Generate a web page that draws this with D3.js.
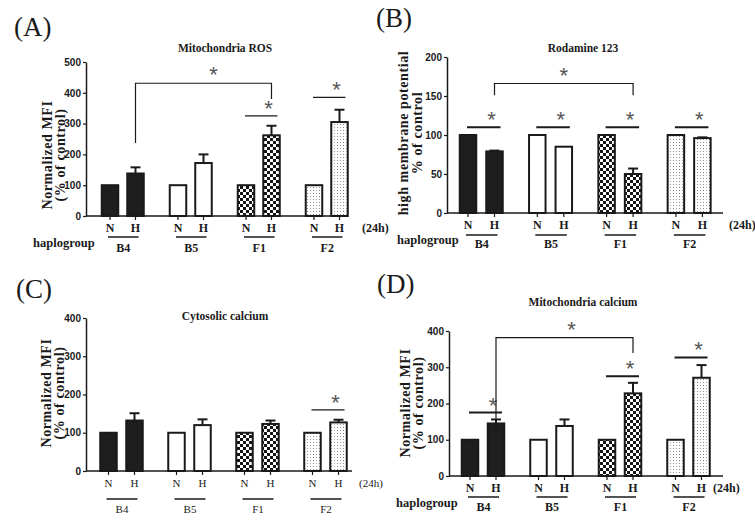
<!DOCTYPE html>
<html><head><meta charset="utf-8">
<script src="https://cdn.jsdelivr.net/npm/d3@7/dist/d3.min.js"></script>
<style>body{margin:0;background:#fff} svg{display:block}</style>
</head><body>
<svg id="c" width="755" height="526"></svg>
<script>
// ---------- data ----------
const groups = ["B4", "B5", "F1", "F2"];
const conds = ["N", "H"];

const rosTicks = [0, 100, 200, 300, 400, 500];
const rosN = [100, 100, 100, 100];
const rosH = [138, 172, 262, 305];
const rosErr = [20, 28, 31, 40];
const rosPairs = [{g: "F1", y: 325}, {g: "F2", y: 385}];
const rosBracket = {from: "B4", to: "F1", y: 431, yFrom: 237, yTo: 380};

const rhoTicks = [0, 50, 100, 150, 200];
const rhoN = [100, 100, 100, 100];
const rhoH = [79, 85, 50, 96];
const rhoErr = [1, 0, 7, 1];
const rhoPairs = [{g: "B4", y: 110}, {g: "B5", y: 110}, {g: "F1", y: 110}, {g: "F2", y: 110}];
const rhoBracket = {from: "B4", to: "F1", y: 166, yFrom: 151, yTo: 151};

const cytoTicks = [0, 100, 200, 300, 400];
const cytoN = [100, 100, 100, 100];
const cytoH = [132, 120, 123, 127];
const cytoErr = [19, 15, 9, 7];
const cytoPairs = [{g: "F2", y: 160}];

const mcaTicks = [0, 100, 200, 300, 400];
const mcaN = [100, 100, 100, 100];
const mcaH = [145, 138, 228, 271];
const mcaErr = [11, 18, 29, 35];
const mcaPairs = [{g: "B4", y: 175}, {g: "F1", y: 275}, {g: "F2", y: 327}];
const mcaBracket = {from: "B4", to: "F1", y: 382, yFrom: 127, yTo: 339};

// ---------- drawing ----------
const svg = d3.select("#c");
const defs = svg.append("defs");
const chk = defs.append("pattern").attr("id", "checker").attr("patternUnits", "userSpaceOnUse")
  .attr("width", 6).attr("height", 6);
chk.append("rect").attr("width", 6).attr("height", 6).attr("fill", "#fff");
chk.append("rect").attr("width", 3).attr("height", 3).attr("fill", "#151515");
chk.append("rect").attr("x", 3).attr("y", 3).attr("width", 3).attr("height", 3).attr("fill", "#151515");
const dp = defs.append("pattern").attr("id", "dots").attr("patternUnits", "userSpaceOnUse")
  .attr("width", 6).attr("height", 3);
dp.append("rect").attr("width", 6).attr("height", 3).attr("fill", "#fff");
dp.append("rect").attr("x", 1).attr("y", 1).attr("width", 1).attr("height", 1).attr("fill", "#8a8a8a");
dp.append("rect").attr("x", 4).attr("y", 1).attr("width", 1).attr("height", 1).attr("fill", "#a5a5a5");

const fills = {B4: "#1e1e1e", B5: "#ffffff", F1: "url(#checker)", F2: "url(#dots)"};
const SERIF = "'Liberation Serif','Times New Roman',serif";
const SANS = "'Liberation Sans Narrow','Arial Narrow','Liberation Sans',Arial,sans-serif";
const INK = "#1a1a1a";

function panel(cfg, nVals, hVals, hErr, ticks, pairs, bracket) {
  const g = svg.append("g");
  const y = d3.scaleLinear().domain([0, ticks[ticks.length - 1]]).range([cfg.bottom, cfg.top]);
  const gx = d3.scaleBand().domain(groups).range([cfg.gStart, cfg.gStart + groups.length * cfg.gStep]);
  const cx = d3.scalePoint().domain(conds).range([cfg.nOff, cfg.nOff + cfg.inner]);
  const xc = (gr, c) => gx(gr) + cx(c);
  const bw = 16.5;

  const rows = [];
  groups.forEach((gr, i) => {
    rows.push({g: gr, c: "N", v: nVals[i], e: 0});
    rows.push({g: gr, c: "H", v: hVals[i], e: hErr[i]});
  });

  // error bars
  rows.filter(d => d.e > 0.5).forEach(d => {
    const x = xc(d.g, d.c);
    g.append("line").attr("x1", x).attr("x2", x).attr("y1", y(d.v)).attr("y2", y(d.v + d.e))
      .attr("stroke", INK).attr("stroke-width", 2);
    g.append("line").attr("x1", x - 5).attr("x2", x + 5).attr("y1", y(d.v + d.e)).attr("y2", y(d.v + d.e))
      .attr("stroke", INK).attr("stroke-width", 2);
  });

  // bars
  g.selectAll("rect.bar").data(rows).join("rect").attr("class", "bar")
    .attr("x", d => xc(d.g, d.c) - bw / 2)
    .attr("y", d => y(d.v))
    .attr("width", bw)
    .attr("height", d => y(0) - y(d.v))
    .attr("fill", d => fills[d.g])
    .attr("stroke", INK).attr("stroke-width", 2);

  // y axis
  const ya = g.append("g").attr("transform", `translate(${cfg.left},0)`)
    .call(d3.axisLeft(y).tickValues(ticks).tickSize(3).tickSizeOuter(0).tickPadding(2));
  ya.select(".domain").attr("stroke", INK).attr("stroke-width", 1.5);
  ya.selectAll(".tick line").attr("stroke", INK).attr("stroke-width", 1.2);
  ya.selectAll(".tick text").attr("font-family", SANS).attr("font-weight", "bold")
    .attr("font-size", 10).attr("fill", INK);

  // x axis line + ticks
  g.append("line").attr("x1", cfg.left).attr("x2", cfg.axisEnd).attr("y1", y(0)).attr("y2", y(0))
    .attr("stroke", INK).attr("stroke-width", 1.5);
  rows.forEach(d => {
    const x = xc(d.g, d.c);
    g.append("line").attr("x1", x).attr("x2", x).attr("y1", y(0)).attr("y2", y(0) + 4)
      .attr("stroke", INK).attr("stroke-width", 1.2);
  });

  const wt = cfg.bold ? "bold" : "normal";
  const fs = cfg.bold ? 12 : 11;
  // condition labels
  rows.forEach(d => {
    g.append("text").attr("x", xc(d.g, d.c)).attr("y", cfg.bottom + 16).attr("text-anchor", "middle")
      .attr("font-family", SERIF).attr("font-weight", wt).attr("font-size", fs).attr("fill", INK).text(d.c);
  });
  g.append("text").attr("x", cfg.h24).attr("y", cfg.bottom + 16)
    .attr("font-family", SERIF).attr("font-weight", wt).attr("font-size", fs).attr("fill", INK).text("(24h)");
  // group underline + labels
  groups.forEach(gr => {
    const x1 = xc(gr, "N") - 2, x2 = xc(gr, "H") + 3;
    g.append("line").attr("x1", x1).attr("x2", x2).attr("y1", cfg.bottom + cfg.ulOff).attr("y2", cfg.bottom + cfg.ulOff)
      .attr("stroke", INK).attr("stroke-width", 1.5);
    g.append("text").attr("x", (x1 + x2) / 2).attr("y", cfg.bottom + cfg.glOff).attr("text-anchor", "middle")
      .attr("font-family", SERIF).attr("font-weight", wt).attr("font-size", fs).attr("fill", INK).text(gr);
  });
  if (cfg.hap != null) {
    g.append("text").attr("x", cfg.hap).attr("y", cfg.bottom + 31)
      .attr("font-family", SERIF).attr("font-weight", "bold").attr("font-size", 12.5).attr("fill", INK).text("haplogroup");
  }

  // significance
  const star = (x, yy) => g.append("text").attr("x", x).attr("y", yy).attr("text-anchor", "middle")
    .attr("font-family", "'Liberation Sans',Arial,sans-serif").attr("font-size", 22).attr("fill", "#555").text("*");
  pairs.forEach(p => {
    const x1 = xc(p.g, "N") - 1, x2 = xc(p.g, "H") + 6;
    g.append("line").attr("x1", x1).attr("x2", x2).attr("y1", y(p.y)).attr("y2", y(p.y))
      .attr("stroke", INK).attr("stroke-width", cfg.sigW);
    star(xc(p.g, "H") - 3, y(p.y));
  });
  if (bracket) {
    const xl = xc(bracket.from, "H"), xr = xc(bracket.to, "H");
    g.append("path").attr("d", `M${xl},${y(bracket.yFrom)}V${y(bracket.y)}H${xr}V${y(bracket.yTo)}`)
      .attr("fill", "none").attr("stroke", INK).attr("stroke-width", 1.2);
    star((xl + xr) / 2 + cfg.starDx, y(bracket.y) - 1);
  }

  // title
  g.append("text").attr("x", cfg.titleX).attr("y", cfg.titleY).attr("text-anchor", "middle")
    .attr("font-family", SERIF).attr("font-weight", "bold").attr("font-size", 11.5).attr("fill", INK).text(cfg.title);
  // panel letter
  g.append("text").attr("x", cfg.letterX).attr("y", cfg.letterY)
    .attr("font-family", SERIF).attr("font-size", 27).attr("fill", INK).text(cfg.letter);
  // y label
  cfg.ylab.forEach((t, i) => {
    g.append("text").attr("transform", `translate(${cfg.ylX[i]},${cfg.ylCY}) rotate(-90)`)
      .attr("text-anchor", "middle").attr("font-family", SERIF).attr("font-weight", "bold")
      .attr("font-size", 14).attr("letter-spacing", 0.6).attr("fill", INK).text(t);
  });
}

panel({left: 86, top: 62, bottom: 216, axisEnd: 348, gStart: 88, gStep: 68, nOff: 22, inner: 25.5,
  title: "Mitochondria ROS", titleX: 225, titleY: 52, letter: "(A)", letterX: 14, letterY: 36,
  ylab: ["Normalized MFI", "(% of control)"], ylX: [52, 65], ylCY: 155, hap: 33, h24: 362,
  bold: true, ulOff: 21, glOff: 36, sigW: 1.3, starDx: 10},
  rosN, rosH, rosErr, rosTicks, rosPairs, rosBracket);

panel({left: 447, top: 57, bottom: 213, axisEnd: 723, gStart: 446, gStep: 69.3, nOff: 22, inner: 26.5,
  title: "Rodamine 123", titleX: 583, titleY: 52, letter: "(B)", letterX: 376, letterY: 27,
  ylab: ["high membrane potential", "% of control"], ylX: [408, 422], ylCY: 133, hap: 397, h24: 729,
  bold: true, ulOff: 22, glOff: 35, sigW: 2, starDx: 0},
  rhoN, rhoH, rhoErr, rhoTicks, rhoPairs, rhoBracket);

panel({left: 86, top: 318, bottom: 471, axisEnd: 352, gStart: 86.5, gStep: 68, nOff: 22, inner: 26,
  title: "Cytosolic calcium", titleX: 225, titleY: 320, letter: "(C)", letterX: 16, letterY: 298,
  ylab: ["Normalized MFI", "(% of control)"], ylX: [51, 64], ylCY: 393, hap: null, h24: 359,
  bold: false, ulOff: 28, glOff: 42, sigW: 1.3, starDx: 0},
  cytoN, cytoH, cytoErr, cytoTicks, cytoPairs, null);

panel({left: 449, top: 331, bottom: 476, axisEnd: 723, gStart: 448, gStep: 68.5, nOff: 22, inner: 26,
  title: "Mitochondria calcium", titleX: 583, titleY: 306, letter: "(D)", letterX: 377, letterY: 293,
  ylab: ["Normalized MFI", "(% of control)"], ylX: [410, 423], ylCY: 403, hap: 396, h24: 713,
  bold: true, ulOff: 21, glOff: 35, sigW: 2, starDx: 7},
  mcaN, mcaH, mcaErr, mcaTicks, mcaPairs, mcaBracket);
</script>
</body></html>
